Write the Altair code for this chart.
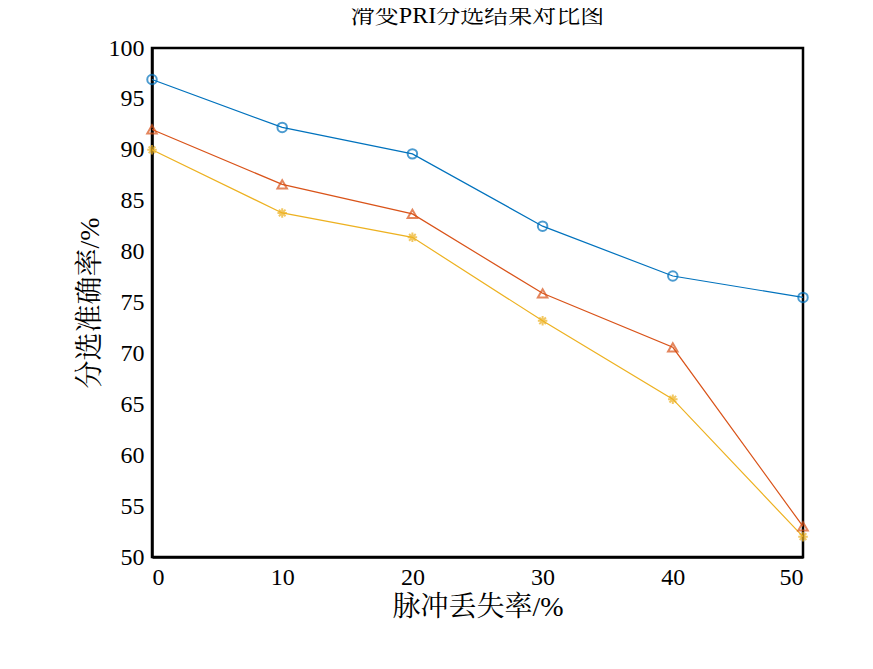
import pandas as pd
import altair as alt

loss_rate = [0, 10, 20, 30, 40, 50]
ours = [96.9, 92.2, 89.6, 82.5, 77.6, 75.5]
attn_ae = [92.0, 86.6, 83.7, 75.9, 70.6, 53.0]
conv_dae = [90.0, 83.8, 81.4, 73.2, 65.5, 52.0]
methods = ["本文方法", "自注意力-自编码器方法", "卷积降噪自编码器方法"]
colors = ["#0072BD", "#D95319", "#EDB120"]
star = "M-1,0L1,0M0,-1L0,1M-0.7,-0.7L0.7,0.7M-0.7,0.7L0.7,-0.7"
shapes = ["circle", "triangle-up", star]

rows = []
for name, vals in zip(methods, [ours, attn_ae, conv_dae]):
    for x, v in zip(loss_rate, vals):
        rows.append({"x": x, "y": v, "method": name})
df = pd.DataFrame(rows)

font = "Liberation Serif, Noto Serif CJK SC, Noto Sans CJK SC"
leg = alt.Legend(title=None, orient="none", legendX=366, legendY=12,
                 labelFont=font, labelFontSize=15, symbolSize=90,
                 symbolStrokeWidth=1.8, strokeColor="black",
                 padding=8, fillColor="white", rowPadding=4)
xs = alt.X("x:Q", title="脉冲丢失率/%", scale=alt.Scale(domain=[0, 50], nice=False),
           axis=alt.Axis(values=loss_rate, grid=False, ticks=False, labelPadding=8))
ys = alt.Y("y:Q", title="分选准确率/%", scale=alt.Scale(domain=[50, 100], nice=False),
           axis=alt.Axis(values=list(range(50, 101, 5)), grid=False, ticks=False, labelPadding=8))

base = alt.Chart(df).encode(x=xs, y=ys)
lines = base.mark_line(strokeWidth=1.2).encode(
    color=alt.Color("method:N", scale=alt.Scale(domain=methods, range=colors), legend=None))
points = base.mark_point(filled=False, size=90, strokeWidth=2).encode(
    color=alt.Color("method:N", scale=alt.Scale(domain=methods, range=colors), legend=leg),
    shape=alt.Shape("method:N", scale=alt.Scale(domain=methods, range=shapes), legend=leg),
)

chart = (lines + points).properties(
    width=651, height=509,
    autosize=alt.AutoSizeParams(type="none"),
    padding={"left": 144, "top": 40, "right": 62, "bottom": 104},
).configure_title(font=font, fontSize=24, fontWeight="normal", offset=8, color="black"
).properties(title="滑变PRI分选结果对比图"
).configure_view(stroke="black", strokeWidth=2.5).configure_axis(
    labelFont=font, labelFontSize=24, titleFont=font, titleFontSize=28,
    titleFontWeight="normal", labelColor="black", titleColor="black",
    domainColor="black", domainWidth=2.5,
)

chart.save("out.html", embed_options={"renderer": "svg", "actions": False})
